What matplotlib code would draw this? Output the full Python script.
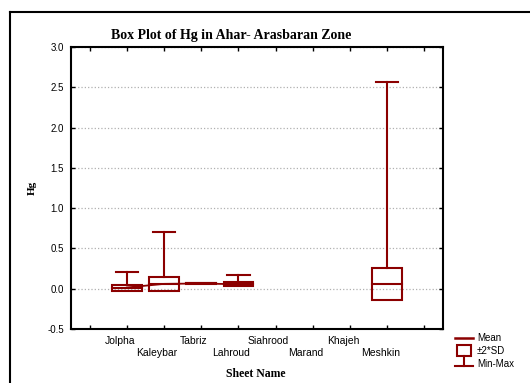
import matplotlib
matplotlib.use('Agg')
import matplotlib.pyplot as plt
from matplotlib.patches import Rectangle
from matplotlib.lines import Line2D
import numpy as np

nan = np.nan

# Data
sheets = ['Jolpha', 'Kaleybar', 'Tabriz', 'Lahroud', 'Siahrood', 'Marand', 'Khajeh', 'Meshkin']
means = [0.015, 0.06, 0.065, 0.055, nan, nan, nan, 0.058]
sd_low = [-0.025, -0.03, 0.057, 0.028, nan, nan, nan, -0.145]   # mean - 2*SD
sd_high = [0.05, 0.15, 0.072, 0.085, nan, nan, nan, 0.257]     # mean + 2*SD
mins = [0.0, 0.0, 0.06, 0.03, nan, nan, nan, 0.0]
maxs = [0.21, 0.71, 0.07, 0.165, nan, nan, nan, 2.565]

red = '#8b0000'
sans = 'Liberation Sans'
serif = 'Liberation Serif'

fig = plt.figure(figsize=(5.3, 3.83), dpi=100)
ax = fig.add_axes([71/530, 1 - 329/383, 372/530, 282/383])

x = np.arange(1, len(sheets) + 1)
box_w = 0.8
cap_w = 0.6

# line through means
ax.plot(x, means, color=red, lw=1.3, zorder=3)

for xi, m, lo, hi, mn, mx in zip(x, means, sd_low, sd_high, mins, maxs):
    if np.isnan(m):
        continue
    ax.add_patch(Rectangle((xi - box_w/2, lo), box_w, hi - lo, fill=False,
                           edgecolor=red, lw=1.5, zorder=3))
    ax.plot([xi - box_w/2, xi + box_w/2], [m, m], color=red, lw=1.5, zorder=3)
    if mx > hi:
        ax.plot([xi, xi], [hi, mx], color=red, lw=1.5, zorder=3)
        ax.plot([xi - cap_w/2, xi + cap_w/2], [mx, mx], color=red, lw=1.5, zorder=3)
    if mn < lo:
        ax.plot([xi, xi], [lo, mn], color=red, lw=1.5, zorder=3)
        ax.plot([xi - cap_w/2, xi + cap_w/2], [mn, mn], color=red, lw=1.5, zorder=3)

ax.set_xlim(-0.5, 9.5)
ax.set_ylim(-0.5, 3.0)
ax.set_xticks(np.arange(0, 10))
ax.set_xticklabels([])
# staggered category labels, set a little left of the ticks as in the original
for i, s in enumerate(sheets):
    ax.text(x[i] - 0.19, -0.025 if i % 2 == 0 else -0.068, s, transform=ax.get_xaxis_transform(),
            ha='center', va='top', fontsize=7.5, family=sans)
ax.set_yticks(np.arange(-0.5, 3.01, 0.5))
ax.set_yticklabels(['%.1f' % v for v in np.arange(-0.5, 3.01, 0.5)], fontsize=7, family=sans)
ax.tick_params(direction='in', length=3, width=1, top=True, right=True)
ax.tick_params(axis='y', pad=5)
ax.yaxis.grid(True, linestyle=':', color='#b0b0b0', lw=0.9)
for s in ax.spines.values():
    s.set_linewidth(1.5)

ax.set_title('Box Plot of Hg in Ahar- Arasbaran Zone', family=serif, weight='bold',
             fontsize=10, x=0.43, pad=6)
ax.set_ylabel('Hg', family=serif, weight='bold', fontsize=8, labelpad=8)
ax.set_xlabel('Sheet Name', family=serif, weight='bold', fontsize=8.5)
ax.xaxis.set_label_coords(0.497, -0.138)

# outer frame
fig.add_artist(Line2D([10/530, 1], [1 - 12/383, 1 - 12/383], color='black', lw=1.5))
fig.add_artist(Line2D([10/530, 10/530], [1 - 12/383, 0], color='black', lw=1.5))

# legend
def fx(px):
    return px / 530

def fy(py):
    return 1 - py / 383

fig.add_artist(Line2D([fx(455), fx(473)], [fy(338), fy(338)], color=red, lw=1.8))
fig.add_artist(Rectangle((fx(457), fy(356)), fx(471) - fx(457), fy(345) - fy(356),
                         fill=False, edgecolor=red, lw=1.5, transform=fig.transFigure))
fig.add_artist(Line2D([fx(464), fx(464)], [fy(356), fy(366)], color=red, lw=1.5))
fig.add_artist(Line2D([fx(455), fx(473)], [fy(366), fy(366)], color=red, lw=1.5))
for txt, py in [('Mean', 338), ('±2*SD', 351), ('Min-Max', 364)]:
    fig.text(fx(477), fy(py), txt, fontsize=7, family=sans, va='center', ha='left')

fig.savefig('out.png', dpi=100)
